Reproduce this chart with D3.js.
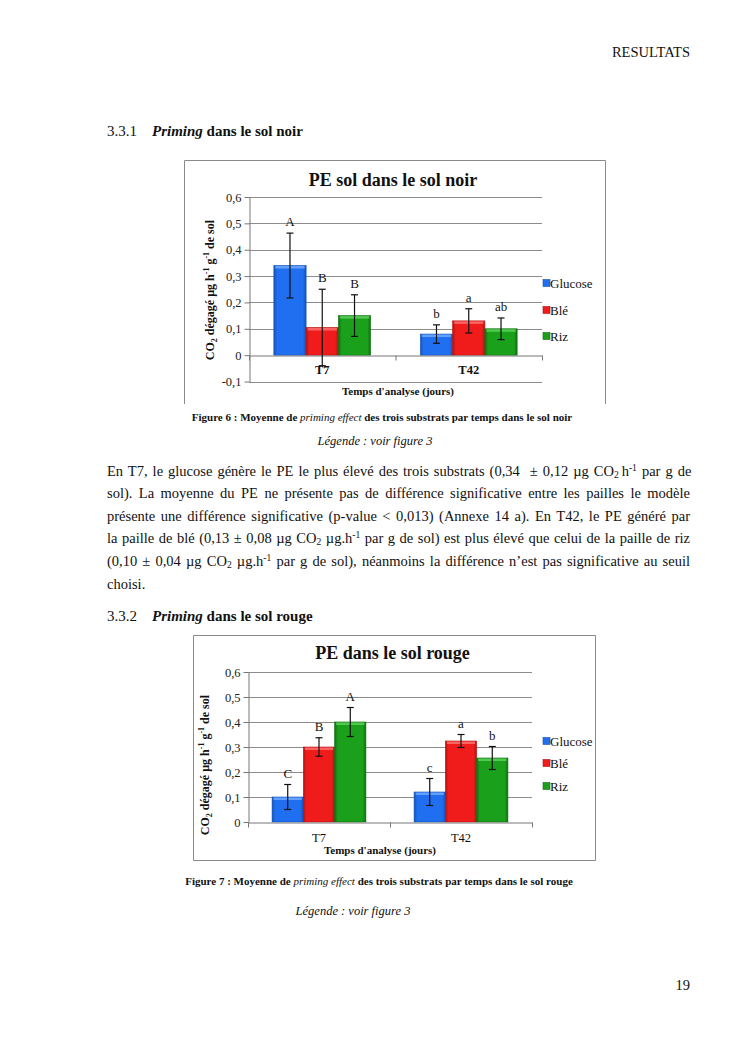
<!DOCTYPE html>
<html>
<head>
<meta charset="utf-8">
<script src="https://cdn.jsdelivr.net/npm/d3@7"></script>
<style>
  body { margin: 0; background: #fff; }
  #page { position: relative; width: 745px; height: 1053px; overflow: hidden;
          font-family: "Liberation Serif", "Times New Roman", serif; color: #111; }
  #page svg { position: absolute; left: 0; top: 0; }
  #page svg text { font-family: "Liberation Serif", "Times New Roman", serif; }
  .line { position: absolute; left: 107px; font-size: 14.5px; line-height: 17px; white-space: nowrap; }
  .line sub, .line sup { line-height: 0; font-size: 0.66em; }
  .line sub { vertical-align: -0.25em; }
  .line sup { vertical-align: 0.5em; }
</style>
</head>
<body>
<div id="page"></div>
<script>
// ---- data ----
const categories = ["T7", "T42"];
const substrates = ["Glucose", "Blé", "Riz"];

// sol noir (figure 6)
const noirMeans   = [[0.34, 0.105, 0.15], [0.08, 0.13, 0.10]];
const noirErrors  = [[0.123, 0.145, 0.079], [0.035, 0.046, 0.041]];
const noirLetters = [["A", "B", "B"], ["b", "a", "ab"]];
const noirTicks   = [-0.1, 0, 0.1, 0.2, 0.3, 0.4, 0.5, 0.6];

// sol rouge (figure 7)
const rougeMeans   = [[0.10, 0.30, 0.40], [0.12, 0.324, 0.256]];
const rougeErrors  = [[0.05, 0.037, 0.058], [0.054, 0.026, 0.046]];
const rougeLetters = [["C", "B", "A"], ["c", "a", "b"]];
const rougeTicks   = [0, 0.1, 0.2, 0.3, 0.4, 0.5, 0.6];

const paragraph = [
  'En T7, le glucose génère le PE le plus élevé des trois substrats (0,34&nbsp; ± 0,12 µg CO<sub>2</sub>&#8201;h<sup>-1</sup> par g de',
  'sol). La moyenne du PE ne présente pas de différence significative entre les pailles le modèle',
  'présente une différence significative (p-value &lt; 0,013) (Annexe 14 a). En T42, le PE généré par',
  'la paille de blé (0,13 ± 0,08 µg CO<sub>2</sub> µg.h<sup>-1</sup> par g de sol) est plus élevé que celui de la paille de riz',
  '(0,10 ± 0,04 µg CO<sub>2</sub> µg.h<sup>-1</sup> par g de sol), néanmoins la différence n’est pas significative au seuil',
  'choisi.'
];

// ---- styles ----
const barColors = {
  "Glucose": { base: "#1f6ff0", dark: "#1552b8", light: "#74adff" },
  "Blé":     { base: "#f01c1c", dark: "#b51010", light: "#ff7777" },
  "Riz":     { base: "#1aa01a", dark: "#0f6e0f", light: "#5fd25f" }
};
const serif = "'Liberation Serif', 'Times New Roman', serif";
const fmt = d => d === 0 ? "0" : d.toFixed(1).replace(".", ",");

const page = d3.select("#page");
const svg = page.append("svg").attr("width", 745).attr("height", 1053);

const defs = svg.append("defs");
substrates.forEach((s, i) => {
  const c = barColors[s];
  const g = defs.append("linearGradient").attr("id", "grad" + i)
    .attr("x1", "0%").attr("x2", "100%").attr("y1", "0%").attr("y2", "0%");
  g.append("stop").attr("offset", "0%").attr("stop-color", c.dark);
  g.append("stop").attr("offset", "10%").attr("stop-color", c.base);
  g.append("stop").attr("offset", "90%").attr("stop-color", c.base);
  g.append("stop").attr("offset", "100%").attr("stop-color", c.dark);
});

function text(x, y, str, opts) {
  opts = opts || {};
  return svg.append("text")
    .attr("x", x).attr("y", y)
    .style("font-family", serif)
    .attr("font-size", opts.size || 12)
    .attr("font-weight", opts.bold ? "bold" : "normal")
    .attr("font-style", opts.italic ? "italic" : "normal")
    .attr("text-anchor", opts.anchor || "start")
    .attr("fill", "#111")
    .text(str);
}

function drawChart(cfg) {
  const g = svg.append("g");

  // frame
  const f = cfg.frame;
  g.append("path")
    .attr("d", cfg.openBottom
      ? `M${f.x0},${f.y1}V${f.y0}H${f.x1}V${f.y1}`
      : `M${f.x0},${f.y0}H${f.x1}V${f.y1}H${f.x0}Z`)
    .attr("fill", "none").attr("stroke", "#8a8a8a").attr("stroke-width", 1);

  const x = d3.scaleBand().domain(categories).range([cfg.plot.x0, cfg.plot.x1]);
  const xs = d3.scaleBand().domain(substrates).range([0, x.bandwidth()]).paddingOuter(0.77);
  const y = d3.scaleLinear().domain([cfg.ticks[0], 0.6]).range([cfg.plot.y1, cfg.plot.y0]);

  // gridlines
  g.append("g").selectAll("line")
    .data(cfg.ticks.filter(t => t !== 0))
    .join("line")
    .attr("x1", cfg.plot.x0).attr("x2", cfg.plot.x1)
    .attr("y1", d => Math.round(y(d)) + 0.5).attr("y2", d => Math.round(y(d)) + 0.5)
    .attr("stroke", "#8c8c8c").attr("stroke-width", 1);

  // y axis
  const yAxis = g.append("g")
    .attr("transform", `translate(${cfg.plot.x0 + 0.5},0)`)
    .call(d3.axisLeft(y).tickValues(cfg.ticks).tickSize(5).tickSizeOuter(0).tickPadding(3).tickFormat(fmt));
  yAxis.attr("font-family", null);
  yAxis.selectAll("path, line").attr("stroke", "#777");
  yAxis.selectAll("text").style("font-family", serif).attr("font-size", 12.5).attr("fill", "#222");

  // title
  text((cfg.frame.x0 + cfg.frame.x1) / 2 - 2, cfg.titleY, cfg.title, { size: 18, bold: true, anchor: "middle" });

  // bars
  categories.forEach((cat, ci) => {
    substrates.forEach((sub, si) => {
      const v = cfg.means[ci][si];
      const bx = x(cat) + xs(sub);
      const bw = xs.bandwidth();
      const top = y(Math.max(0, v)), bottom = y(Math.min(0, v));
      g.append("rect")
        .attr("x", bx).attr("y", top).attr("width", bw).attr("height", bottom - top)
        .attr("fill", `url(#grad${si})`)
        .attr("stroke", barColors[sub].dark).attr("stroke-width", 0.6);
      g.append("rect")
        .attr("x", bx + 1.5).attr("y", top + 0.5).attr("width", bw - 3).attr("height", 2.5)
        .attr("fill", barColors[sub].light).attr("opacity", 0.8);
    });
  });

  // x axis line with ticks on category boundaries
  const xb = d3.scaleLinear().domain([0, categories.length]).range([cfg.plot.x0, cfg.plot.x1]);
  const xAxis = g.append("g")
    .attr("transform", `translate(0,${Math.round(y(0)) + 0.5})`)
    .call(d3.axisBottom(xb).tickValues(d3.range(categories.length + 1)).tickSize(5).tickSizeOuter(0).tickFormat(""));
  xAxis.selectAll("path, line").attr("stroke", "#777");

  // error bars + letters
  categories.forEach((cat, ci) => {
    substrates.forEach((sub, si) => {
      const v = cfg.means[ci][si], e = cfg.errors[ci][si];
      const cx = x(cat) + xs(sub) + xs.bandwidth() / 2;
      const yt = y(v + e), yb = y(v - e);
      const eg = g.append("g").attr("stroke", "#111").attr("stroke-width", 1.2);
      eg.append("line").attr("x1", cx).attr("x2", cx).attr("y1", yt).attr("y2", yb);
      eg.append("line").attr("x1", cx - 3.5).attr("x2", cx + 3.5).attr("y1", yt).attr("y2", yt);
      eg.append("line").attr("x1", cx - 3.5).attr("x2", cx + 3.5).attr("y1", yb).attr("y2", yb);
      text(cx, yt - 7, cfg.letters[ci][si], { size: 13, anchor: "middle" });
    });
  });

  // category labels
  categories.forEach(cat => {
    text(x(cat) + x.bandwidth() / 2, cfg.catY, cat, { size: 12.5, bold: cfg.boldCats, anchor: "middle" });
  });

  // x title
  text(cfg.xTitle.x, cfg.xTitle.y, "Temps d'analyse (jours)", { size: 11, bold: true, anchor: "middle" });

  // y title
  const yl = svg.append("text")
    .attr("transform", `translate(${cfg.yTitle.x},${cfg.yTitle.y}) rotate(-90)`)
    .attr("text-anchor", "middle")
    .style("font-family", serif).attr("font-size", 12).attr("font-weight", "bold").attr("fill", "#111");
  yl.append("tspan").text("CO");
  yl.append("tspan").attr("font-size", 8).attr("dy", 3).text("2");
  yl.append("tspan").attr("dy", -3).text(" dégagé µg h");
  yl.append("tspan").attr("font-size", 8).attr("dy", -5).text("-1");
  yl.append("tspan").attr("dy", 5).text(" g");
  yl.append("tspan").attr("font-size", 8).attr("dy", -5).text("-1");
  yl.append("tspan").attr("dy", 5).text(" de sol");

  // legend
  substrates.forEach((sub, si) => {
    const ly = cfg.legendY[si];
    g.append("rect").attr("x", 543).attr("y", ly - 3.5).attr("width", 7).attr("height", 7)
      .attr("fill", barColors[sub].base).attr("stroke", barColors[sub].dark).attr("stroke-width", 0.6);
    text(550, ly + 4.5, sub, { size: 13 });
  });
}

// ---- page text ----
text(690, 57, "RESULTATS", { size: 14.5, anchor: "end" });

function heading(y, num, rest) {
  const t = svg.append("text").attr("x", 107).attr("y", y)
    .style("font-family", serif).attr("font-size", 15).attr("fill", "#111");
  t.append("tspan").text(num);
  t.append("tspan").attr("x", 152).attr("font-weight", "bold").attr("font-style", "italic").text("Priming");
  t.append("tspan").attr("font-weight", "bold").text(" " + rest);
}
heading(136, "3.3.1", "dans le sol noir");
heading(621, "3.3.2", "dans le sol rouge");

function caption(cx, y, num, end) {
  const t = svg.append("text").attr("x", cx).attr("y", y).attr("text-anchor", "middle")
    .style("font-family", serif).attr("font-size", 11).attr("font-weight", "bold").attr("fill", "#111");
  t.append("tspan").text(`Figure ${num} : Moyenne de `);
  t.append("tspan").attr("font-style", "italic").attr("font-weight", "normal").text("priming effect");
  t.append("tspan").text(" des trois substrats par temps dans le sol " + end);
}
caption(382, 421, 6, "noir");
text(375, 445, "Légende : voir figure 3", { size: 12.5, italic: true, anchor: "middle" });
caption(379, 885, 7, "rouge");
text(353, 915, "Légende : voir figure 3", { size: 12.5, italic: true, anchor: "middle" });
text(690, 990, "19", { size: 14.5, anchor: "end" });

// ---- charts ----
drawChart({
  title: "PE sol dans le sol noir", titleY: 186,
  means: noirMeans, errors: noirErrors, letters: noirLetters, ticks: noirTicks,
  frame: { x0: 184.5, x1: 605.5, y0: 160.5, y1: 404 }, openBottom: true,
  plot: { x0: 249, x1: 542, y0: 197, y1: 381.5 },
  boldCats: true, catY: 374,
  xTitle: { x: 398, y: 395 },
  yTitle: { x: 214, y: 290 },
  legendY: [283, 310, 336]
});

drawChart({
  title: "PE dans le sol rouge", titleY: 659,
  means: rougeMeans, errors: rougeErrors, letters: rougeLetters, ticks: rougeTicks,
  frame: { x0: 193.5, x1: 595.5, y0: 635.5, y1: 860.5 }, openBottom: false,
  plot: { x0: 248, x1: 532, y0: 672, y1: 822 },
  boldCats: false, catY: 842,
  xTitle: { x: 380, y: 854 },
  yTitle: { x: 209, y: 765 },
  legendY: [741, 763, 786]
});

// ---- justified paragraph ----
const baselines = [476, 498.6, 521.2, 543.8, 566.4, 589];
const width = 583;
paragraph.forEach((html, i) => {
  const div = page.append("div").attr("class", "line")
    .style("top", (baselines[i] - 13.4) + "px").html(html);
  if (i < paragraph.length - 1) {
    const node = div.node();
    const natural = node.getBoundingClientRect().width;
    const spaces = (node.textContent.match(/ /g) || []).length;
    div.style("word-spacing", ((width - natural) / spaces) + "px");
  }
});
</script>
</body>
</html>
